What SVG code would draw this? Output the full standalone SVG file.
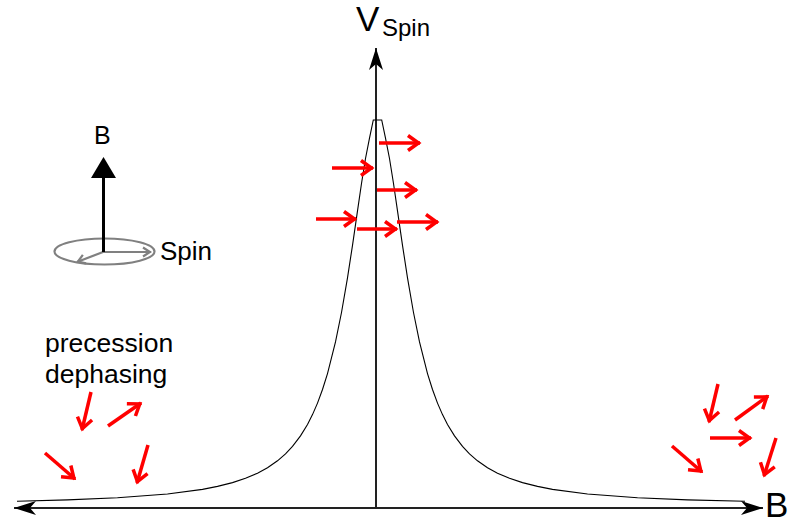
<svg xmlns="http://www.w3.org/2000/svg" width="790" height="525" viewBox="0 0 790 525">
<style>
  text { font-family: "Liberation Sans", Arial, sans-serif; fill: #000; }
  .red { stroke: #ff0000; stroke-width: 3.5; fill: none; marker-end: url(#redhead); }
  .gray { stroke: #808080; stroke-width: 2.2; fill: none; }
  .axis { stroke: #222; stroke-width: 2; fill: none; }
</style>
<defs>
  <marker id="redhead" markerUnits="userSpaceOnUse" viewBox="-20 -12 24 24" markerWidth="24" markerHeight="24" refX="0" refY="0" orient="auto" overflow="visible">
    <path d="M-12,-7.5 L-1.5,0 L-12,7.5" fill="none" stroke="#ff0000" stroke-width="3.5"/>
  </marker>
  <marker id="grayhead" markerUnits="userSpaceOnUse" viewBox="-12 -8 16 16" markerWidth="16" markerHeight="16" refX="0" refY="0" orient="auto" overflow="visible">
    <path d="M-8,-4.5 L-1,0 L-8,4.5" fill="none" stroke="#808080" stroke-width="2.2"/>
  </marker>
  <marker id="stealth" markerUnits="userSpaceOnUse" viewBox="-24 -10 26 20" markerWidth="26" markerHeight="20" refX="0" refY="0" orient="auto-start-reverse" overflow="visible">
    <path d="M0,0 L-22,-7 L-16,0 L-22,7 Z" fill="#000"/>
  </marker>
</defs>

<g id="axes">
  <line id="b-axis" class="axis" x1="14" y1="508" x2="763" y2="508" marker-start="url(#stealth)" marker-end="url(#stealth)"/>
  <line id="v-axis" class="axis" x1="376" y1="509" x2="376" y2="48" marker-end="url(#stealth)"/>
</g>

<g id="curve">
  <polyline fill="none" stroke="#000" stroke-width="1.1" points="17,501.2 67.5,499.9 117.5,497.8 167.5,494 202.5,489.4 217.5,486.4 232.5,482.6 245.5,478.3 257.5,473.2 267.5,467.8 277.5,460.8 285.5,453.9 292.5,446.4 300.5,435.9 307.5,424.5 312.5,414.6 317.5,403.1 322.5,389.5 327.5,373.6 335.5,341.9 341.5,312.5 347.5,277.8 352.5,245.3 357.5,210.8 361.5,183.5 365.5,158.5 369.5,138.1 373.3,120 381.7,120 385.5,138.1 389.5,158.5 393.5,183.5 397.5,210.8 402.5,245.3 407.5,277.8 413.5,312.5 419.5,341.9 427.5,373.6 432.5,389.5 437.5,403.1 442.5,414.6 447.5,424.5 454.5,435.9 462.5,446.4 469.5,453.9 477.5,460.8 487.5,467.8 497.5,473.2 509.5,478.3 522.5,482.6 537.5,486.4 552.5,489.4 587.5,494 637.5,497.8 687.5,499.9 745,501.3"/>
</g>

<g id="labels">
  <text id="v-label" x="356" y="31" font-size="35">V</text>
  <text id="v-sub" x="382" y="36" font-size="24">Spin</text>
  <text id="b-label" x="765" y="517" font-size="35">B</text>
  <text id="dephasing-label" font-size="26.5"><tspan x="45" y="352">precession</tspan><tspan x="45" y="383">dephasing</tspan></text>
</g>

<g id="inset">
  <ellipse cx="104.5" cy="251.5" rx="50" ry="13" class="gray"/>
  <line x1="103" y1="252" x2="151" y2="252" class="gray" marker-end="url(#grayhead)"/>
  <line x1="103" y1="252" x2="77" y2="262" class="gray" marker-end="url(#grayhead)"/>
  <line x1="103.5" y1="252" x2="103.5" y2="176" stroke="#000" stroke-width="3"/>
  <polygon points="103.5,157 91,178 116,178" fill="#000"/>
  <text id="inset-b" x="94" y="144" font-size="25">B</text>
  <text id="inset-spin" x="160" y="260" font-size="26">Spin</text>
</g>

<g id="spins-peak">
  <line class="red" x1="379" y1="143" x2="420" y2="143"/>
  <line class="red" x1="332" y1="168" x2="373" y2="168"/>
  <line class="red" x1="377" y1="190" x2="417" y2="190"/>
  <line class="red" x1="316" y1="219" x2="356" y2="219"/>
  <line class="red" x1="357" y1="229" x2="397" y2="229"/>
  <line class="red" x1="397" y1="222" x2="438" y2="222"/>
</g>

<g id="spins-left">
  <line class="red" x1="91" y1="392" x2="82" y2="430"/>
  <line class="red" x1="108" y1="426" x2="141" y2="403"/>
  <line class="red" x1="45" y1="453" x2="75" y2="479"/>
  <line class="red" x1="148" y1="445" x2="137" y2="483"/>
</g>

<g id="spins-right">
  <line class="red" x1="718" y1="384" x2="709" y2="422"/>
  <line class="red" x1="735" y1="420" x2="768" y2="396"/>
  <line class="red" x1="710" y1="438" x2="751" y2="438"/>
  <line class="red" x1="672" y1="446" x2="702" y2="472"/>
  <line class="red" x1="776" y1="438" x2="764" y2="476"/>
</g>
</svg>
